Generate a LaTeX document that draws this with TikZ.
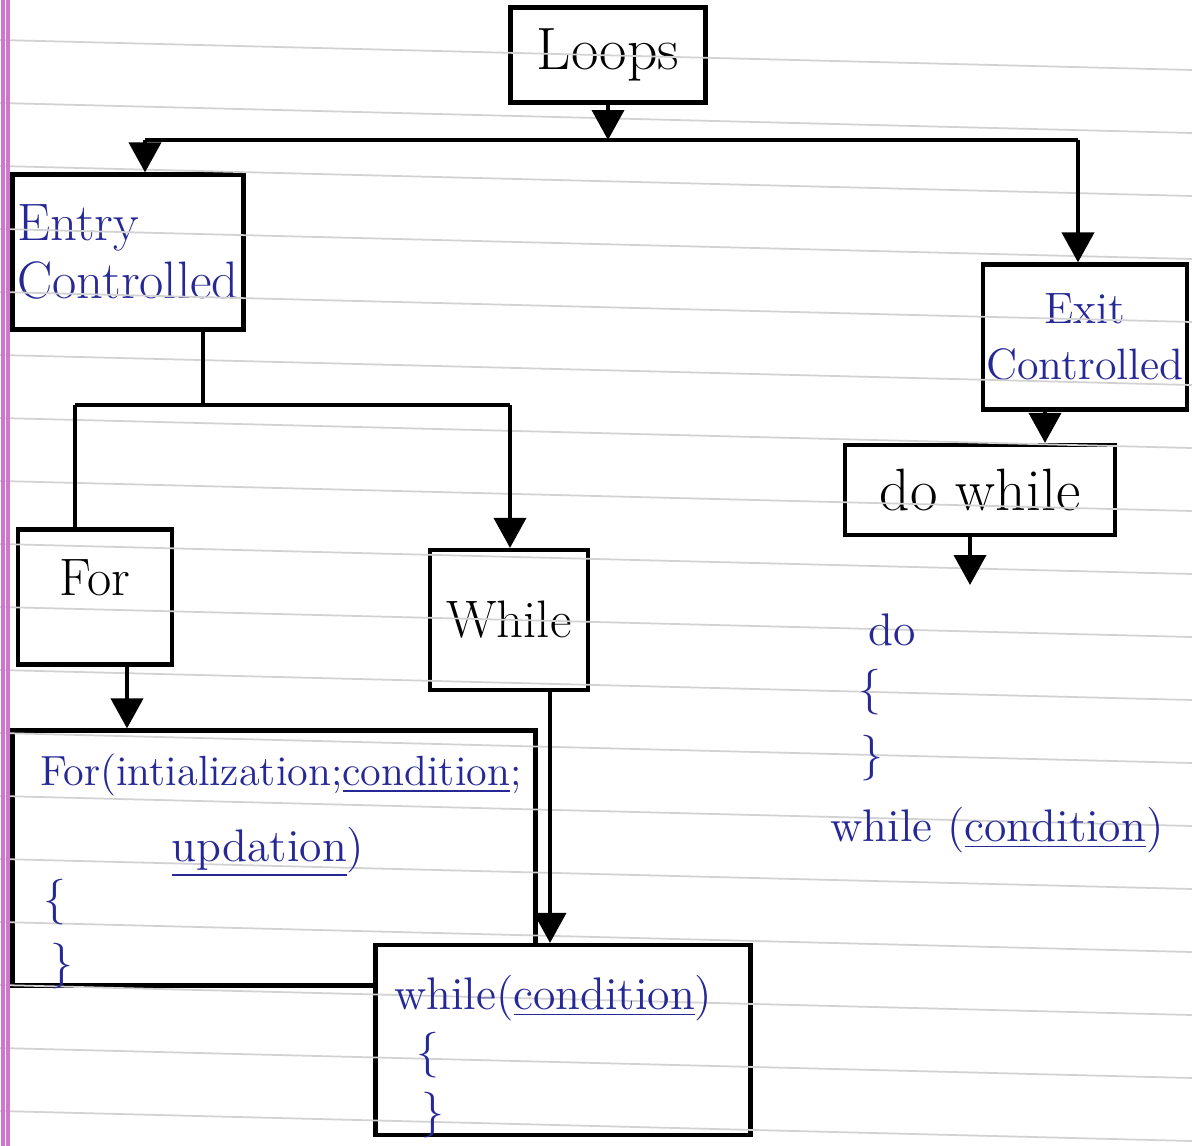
\documentclass[tikz,border=0pt]{standalone}
\usepackage{tikz}
\usetikzlibrary{arrows.meta,positioning,calc}
\definecolor{tinta}{RGB}{38,40,150}
\definecolor{margo}{RGB}{205,120,205}
\tikzset{
  doboz/.style={draw,line width=1.2pt,inner sep=3pt},
  nyil/.style={-{Triangle[length=3mm,width=3.2mm]},line width=1.1pt},
  vonal/.style={line width=1.1pt},
  kek/.style={text=tinta,inner sep=1pt},
  fekete/.style={text=black,inner sep=1pt},
}
\newcommand{\betu}[1]{\fontsize{#1}{#1}\selectfont}

\begin{document}
\begin{tikzpicture}[x=1cm,y=1cm]
  \useasboundingbox[fill=white] (0,0) rectangle (11.92,-11.46);

  % boxes
  \node[doboz,minimum width=1.95cm,minimum height=0.95cm,fekete] (loops) at (6.08,-0.55) {\betu{17}Loops};
  \node[doboz,minimum width=2.31cm,minimum height=1.55cm,kek,align=left] (entry) at (1.28,-2.52)
    {\betu{15}Entry\\[2pt]\betu{15}Controlled};
  \node[doboz,minimum width=2.04cm,minimum height=1.45cm,kek,align=center] (exit) at (10.85,-3.37)
    {\betu{12.5}Exit\\[4pt]\betu{12.5}Controlled};
  \node[doboz,minimum width=2.70cm,minimum height=0.90cm,fekete] (dowhile) at (9.80,-4.90) {\betu{17}do while};
  \node[doboz,minimum width=1.54cm,minimum height=1.35cm] (for) at (0.95,-5.97) {};
  \node[fekete] (fortxt) at (0.95,-5.78) {\betu{15}For};
  \node[doboz,minimum width=1.58cm,minimum height=1.40cm,fekete] (while) at (5.09,-6.20) {\betu{15}While};
  \node[doboz,minimum width=5.23cm,minimum height=2.55cm] (forsyn) at (2.74,-8.58) {};
  \node[doboz,fill=white,minimum width=3.75cm,minimum height=1.90cm] (whilesyn) at (5.63,-10.40) {};

  % ruled paper
  \foreach \k in {0,...,17}
    \draw[gray!35,line width=0.5pt] (0,-0.40-0.63*\k) -- (11.92,-0.70-0.63*\k);
  \draw[margo,line width=1pt] (0.03,0) -- (0.03,-11.46);
  \draw[margo,line width=1pt] (0.08,0) -- (0.08,-11.46);

  % for syntax
  \node[kek,anchor=west] (f1) at (0.36,-7.75) {\betu{12}For(intialization;\underline{condition};};
  \node[kek] (f2) at (2.68,-8.52) {\betu{13}\underline{updation})};
  \node[kek] (f3) at (0.55,-9.02) {\betu{13}\{};
  \node[kek] (f4) at (0.62,-9.66) {\betu{13}\}};
  % while syntax
  \node[kek,anchor=west] (w1) at (3.90,-9.98) {\betu{13}while(\underline{condition})};
  \node[kek] (w2) at (4.28,-10.55) {\betu{13}\{};
  \node[kek] (w3) at (4.33,-11.15) {\betu{13}\}};
  % do while syntax
  \node[kek] (d1) at (8.92,-6.30) {\betu{13}do};
  \node[kek] (d2) at (8.70,-6.92) {\betu{13}\{};
  \node[kek] (d3) at (8.72,-7.58) {\betu{13}\}};
  \node[kek] (d4) at (9.97,-8.30) {\betu{13}while (\underline{condition})};

  % Loops -> Entry / Exit
  \coordinate (bus) at (loops.south |- 0,-1.40);
  \coordinate (busL) at (1.45,-1.40);
  \coordinate (busR) at (10.78,-1.40);
  \draw[nyil] (loops.south) -- (bus);
  \draw[vonal] (busL) -- (busR);
  \draw[nyil] (busL) -- (busL |- entry.north);
  \draw[nyil] (busR) -- (busR |- exit.north);

  % Entry -> For / While
  \coordinate (elag) at (2.03,-4.05);
  \coordinate (elagL) at (0.75,-4.05);
  \coordinate (elagR) at (5.10,-4.05);
  \draw[vonal] (elag |- entry.south) -- (elag);
  \draw[vonal] (elagL) -- (elagR);
  \draw[vonal] (elagL) -- (elagL |- for.north);
  \draw[nyil] (elagR) -- (elagR |- while.north);

  % For / While -> syntax
  \coordinate (forki) at (1.27,-6.65);
  \coordinate (whileki) at (5.50,-6.90);
  \draw[nyil] (forki |- for.south) -- (forki |- forsyn.north);
  \draw[nyil] (whileki |- while.south) -- (whileki |- whilesyn.north);

  % Exit -> do while -> syntax
  \coordinate (exitki) at (10.45,-4.10);
  \coordinate (doki) at (9.70,-5.85);
  \draw[nyil] (exitki |- exit.south) -- (exitki |- dowhile.north);
  \draw[nyil] (doki |- dowhile.south) -- (doki);
\end{tikzpicture}
\end{document}
